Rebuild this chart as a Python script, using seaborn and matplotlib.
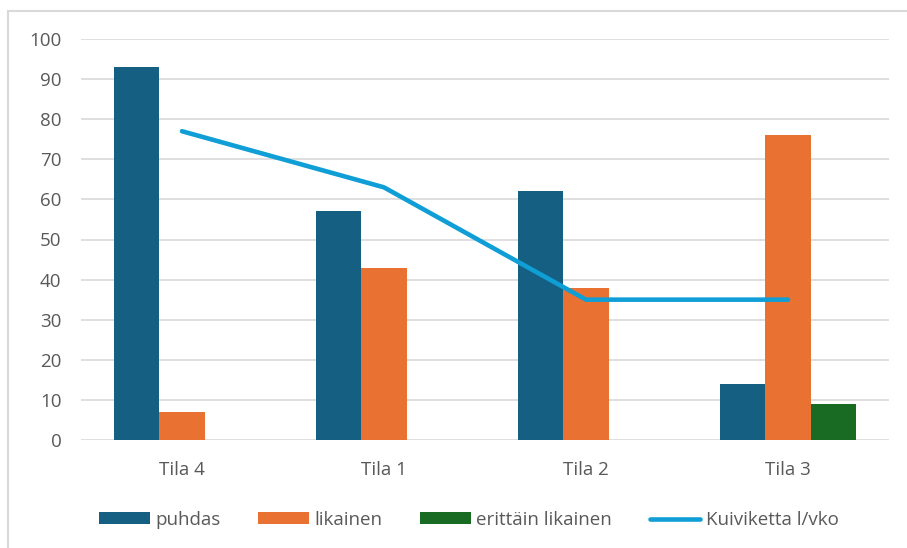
import numpy as np
import pandas as pd
import matplotlib.pyplot as plt
import seaborn as sns
from matplotlib.lines import Line2D

# Chart data
tilat = ['Tila 4', 'Tila 1', 'Tila 2', 'Tila 3']
sarjat = ['puhdas', 'likainen', 'erittäin likainen']
puhdas = [93, 57, 62, 14]
likainen = [7, 43, 38, 76]
erittain_likainen = [0, 0, 0, 9]
kuiviketta = [77, 63, 35, 35]
yticks = list(range(0, 101, 10))

varit = {'puhdas': '#156082', 'likainen': '#E97132', 'erittäin likainen': '#196B24'}
viiva_vari = '#0F9ED5'
teksti = '#595959'
grid_vari = '#D9D9D9'

df = pd.DataFrame({
    'Tila': tilat * 3,
    'Luokka': np.repeat(sarjat, len(tilat)),
    'Osuus': puhdas + likainen + erittain_likainen,
})

sns.set_theme(style='white')
plt.rcParams['font.family'] = ['Open Sans', 'DejaVu Sans']

W, H = 907, 548
fig = plt.figure(figsize=(W / 100, H / 100), dpi=100)
ax = fig.add_axes([81 / W, 1 - 440 / H, 808 / W, 401 / H])

sns.barplot(data=df, x='Tila', y='Osuus', hue='Luokka', palette=varit,
            width=0.67, saturation=1, linewidth=0, ax=ax)
sns.lineplot(x=np.arange(len(tilat)), y=kuiviketta, color=viiva_vari,
             linewidth=3.3, solid_capstyle='round', label='Kuiviketta l/vko', ax=ax)

ax.set_xlim(-0.5, len(tilat) - 0.5)
ax.set_ylim(0, 100)
ax.set_yticks(yticks)
ax.set_xticks(range(len(tilat)))
ax.set_xticklabels(tilat)
ax.set_xlabel('')
ax.set_ylabel('')
ax.yaxis.grid(True, color=grid_vari, linewidth=1.2)
ax.set_axisbelow(True)
sns.despine(ax=ax, left=True, bottom=True)
ax.tick_params(axis='both', length=0, colors=teksti, labelsize=13.5)
ax.tick_params(axis='y', pad=14)
ax.tick_params(axis='x', pad=15)

h, l = ax.get_legend_handles_labels()
ax.legend(h, l, loc='center', bbox_to_anchor=(469 / W, 1 - 520 / H),
          bbox_transform=fig.transFigure, ncol=4, frameon=False, fontsize=13.5,
          handlelength=2.7, handleheight=0.62, handletextpad=0.3,
          columnspacing=2.0, labelcolor=teksti)

# outer chart frame (partly cropped in the original)
fig.add_artist(Line2D([8 / W, 8 / W], [0, 1 - 11 / H], color=grid_vari, linewidth=1.5))
fig.add_artist(Line2D([8 / W, 1], [1 - 11 / H, 1 - 11 / H], color=grid_vari, linewidth=1.5))

fig.savefig('out.png', dpi=100)
